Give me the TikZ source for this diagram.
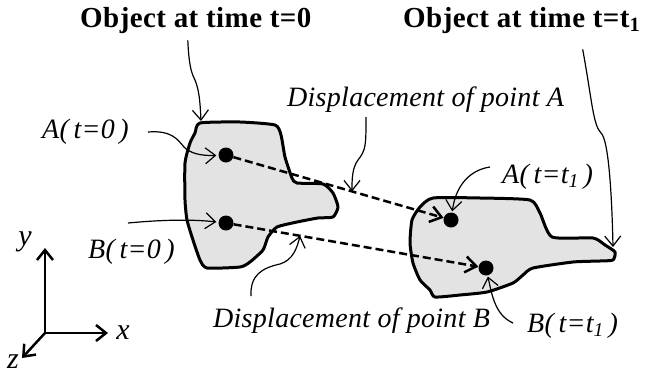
\documentclass[tikz,border=0pt]{standalone}
\usepackage{fontspec}
\setmainfont{Liberation Serif}
\usetikzlibrary{arrows.meta, calc}

\begin{document}
\begin{tikzpicture}[x=1pt, y=-1pt]

	\tikzstyle{heading} = [font={\fontsize{29}{33}\selectfont\bfseries\addfontfeatures{LetterSpace=1.5}}, anchor=base west, inner sep=0pt]
	\tikzstyle{itlabel} = [font={\fontsize{28}{32}\selectfont\itshape\addfontfeatures{LetterSpace=1}}, anchor=base west, inner sep=0pt]
	\tikzstyle{axlabel} = [font={\fontsize{30}{34}\selectfont\itshape}, inner sep=0pt]
	\tikzstyle{body} = [draw, line width=3pt, fill=black!11, line join=round]
	\tikzstyle{dot} = [circle, fill=black, inner sep=0pt, minimum size=15pt]
	\tikzstyle{lead} = [-{Straight Barb[length=10pt, width=16pt]}, line width=1.2pt]
	\tikzstyle{disp} = [line width=2.5pt, dash pattern=on 8pt off 4pt, -{Straight Barb[length=11pt, width=16pt]}]
	\tikzstyle{axis} = [-{Straight Barb[length=10pt, width=16pt]}, line width=2.5pt]

	\useasboundingbox (0,0) rectangle (648,378);

	% Objects
	\draw[body] plot[smooth cycle, tension=0.35] coordinates {(200,123) (240,122) (275,125) (281,135) (285,157) (292,178) (297,183) (323,184) (333,193) (338,207) (333,217) (318,218) (297,222) (277,227) (268,237) (263,250) (250,262) (240,267) (207,268) (200,260) (193,240) (187,220) (185,200) (185,163) (190,143) (195,133)};
	\draw[body] plot[smooth cycle, tension=0.35] coordinates {(433,198) (480,198) (530,200) (540,213) (552,237) (593,238) (605,245) (615,252) (613,260) (600,261) (573,262) (533,268) (523,275) (513,283) (487,292) (460,295) (435,297) (430,290) (420,280) (413,263) (410,243) (412,220) (420,207)};

	% Define nodes
	\node[dot] (A0) at (226,155) {};
	\node[dot] (B0) at (226,223) {};
	\node[dot] (A1) at (451,220) {};
	\node[dot] (B1) at (486,268) {};

	\node[heading] (t0) at (80,27) {Object at time t=0};
	\node[heading] (t1) at (403,27) {Object at time t=t\textsubscript{1}};
	\node[itlabel] (dA) at (287,106) {Displacement of point A};
	\node[itlabel] (dB) at (213,327) {Displacement of point B};
	\node[itlabel] (lA0) at (42,138) {A(\,t=0\,)};
	\node[itlabel] (lB0) at (88,258) {B(\,t=0\,)};
	\node[itlabel] (lA1) at (502,183) {A(\,t=t\textsubscript{1}\,)};
	\node[itlabel] (lB1) at (527,332) {B(\,t=t\textsubscript{1}\,)};

	\coordinate (o1) at (201,121);
	\coordinate (o2) at (613,247);
	\coordinate (pA) at ($(A0)!0.56!(A1)$);
	\coordinate (pB) at ($(B0)!0.285!(B1)$);

	% Draw arrows
	\draw[disp] (A0) -- (A1);
	\draw[disp] (B0) -- (B1);

	\draw[lead] ([shift={(-8,7)}]t0.south) .. controls (189,65) and (191,72) .. (195,80) .. controls (199,90) and (200,100) .. (o1);
	\draw[lead] ([shift={(61,16)}]t1.south) .. controls (592,100) and (593,125) .. (601,133) .. controls (609,140) and (612,200) .. (o2);
	\draw[lead] ([shift={(79,5)}]dA.south west) .. controls (366,145) and (366,150) .. (358,160) .. controls (352,168) and (352,180) .. (pA);
	\draw[lead] ([shift={(38,-11)}]dB.north west) .. controls (250,275) and (262,268) .. (280,264) .. controls (293,260) and (297,248) .. (pB);
	\draw[lead, shorten >=2pt] (148,132) .. controls (172,130) and (178,140) .. (184,147) .. controls (190,153) and (200,156) .. (A0);
	\draw[lead, shorten >=2pt] (128,223) .. controls (160,220) and (190,219) .. (B0);
	\draw[lead, shorten >=1pt] (490,167) .. controls (470,170) and (456,185) .. (A1);
	\draw[lead, shorten >=1pt] (513,323) .. controls (495,315) and (492,295) .. (B1);

	% Axes
	\coordinate (O) at (45,333);
	\node[axlabel] (ly) at (25,242) {y};
	\node[axlabel] (lx) at (123,333) {x};
	\node[axlabel] (lz) at (13,362) {z};
	\draw[axis] (O) -- (45,248);
	\draw[axis] (O) -- (108,333);
	\draw[axis] (O) -- (22,358);

\end{tikzpicture}
\end{document}
